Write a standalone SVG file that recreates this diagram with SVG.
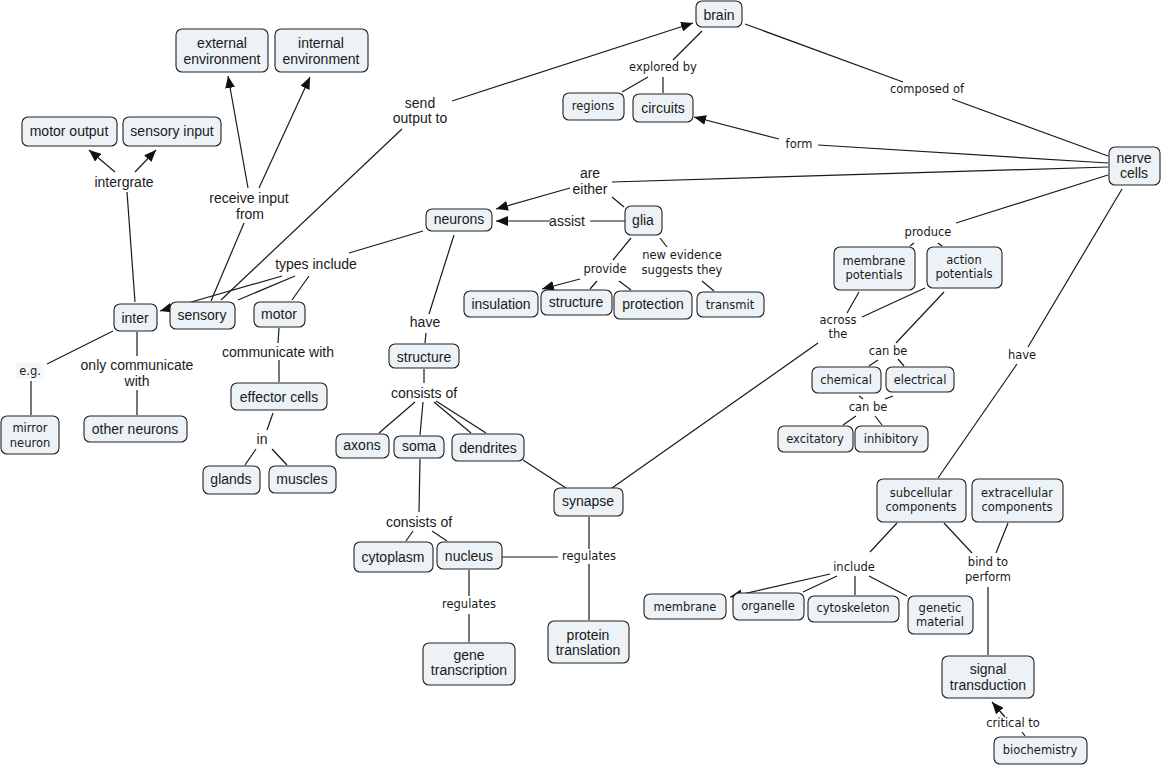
<svg xmlns="http://www.w3.org/2000/svg" width="1163" height="767" viewBox="0 0 1163 767">
<style>
.n rect{fill:#ecf2f5;stroke:#222;stroke-width:1.1}
text{fill:#1a1a1a;text-anchor:middle;dominant-baseline:central}
.a{font-family:"Liberation Sans",Arial,sans-serif;font-size:14px}
.v{font-family:"DejaVu Sans",Verdana,sans-serif;font-size:11.5px}
#links line{stroke:#1a1a1a;stroke-width:1.2}
#links line.ar{marker-end:url(#ah)}
</style>
<defs>
<marker id="ah" markerUnits="userSpaceOnUse" markerWidth="13" markerHeight="10" refX="12" refY="5" orient="auto">
<path d="M0,0 L12,5 L0,10 z" fill="#111"/>
</marker>
</defs>
<rect width="1163" height="767" fill="#fff"/>
<g id="links">
<line class="ar" x1="452" y1="101" x2="693" y2="23"/>
<line class="ar" x1="779" y1="139" x2="694" y2="117"/>
<line class="ar" x1="570" y1="188" x2="496" y2="209"/>
<line class="ar" x1="550" y1="221" x2="496" y2="221"/>
<line class="ar" x1="115" y1="172" x2="89" y2="150"/>
<line class="ar" x1="135" y1="172" x2="156" y2="150"/>
<line class="ar" x1="248" y1="188" x2="228" y2="76"/>
<line class="ar" x1="259" y1="188" x2="310" y2="77"/>
<line class="ar" x1="282" y1="276" x2="160" y2="311"/>
<line class="ar" x1="580" y1="279" x2="542" y2="289"/>
<line class="ar" x1="830" y1="574" x2="730" y2="597"/>
<line class="ar" x1="1005" y1="717" x2="992" y2="702"/>
<line x1="127" y1="192" x2="135" y2="302"/>
<line x1="244" y1="223" x2="211" y2="301"/>
<line x1="402" y1="129" x2="221" y2="300"/>
<line x1="702" y1="31" x2="673" y2="60"/>
<line x1="648" y1="77" x2="622" y2="92"/>
<line x1="663" y1="77" x2="663" y2="93"/>
<line x1="745" y1="24" x2="903" y2="82"/>
<line x1="952" y1="99" x2="1108" y2="156"/>
<line x1="1108" y1="163" x2="818" y2="145"/>
<line x1="1108" y1="167" x2="612" y2="182"/>
<line x1="624" y1="207" x2="612" y2="197"/>
<line x1="625" y1="221" x2="590" y2="221"/>
<line x1="1108" y1="175" x2="956" y2="223"/>
<line x1="914" y1="243" x2="910" y2="246"/>
<line x1="938" y1="243" x2="942" y2="246"/>
<line x1="1122" y1="189" x2="1028" y2="347"/>
<line x1="1017" y1="364" x2="938" y2="478"/>
<line x1="423" y1="231" x2="349" y2="253"/>
<line x1="295" y1="276" x2="238" y2="300"/>
<line x1="309" y1="276" x2="292" y2="300"/>
<line x1="454" y1="235" x2="429" y2="314"/>
<line x1="426" y1="333" x2="425" y2="343"/>
<line x1="631" y1="238" x2="613" y2="260"/>
<line x1="597" y1="281" x2="590" y2="289"/>
<line x1="619" y1="281" x2="631" y2="290"/>
<line x1="660" y1="238" x2="667" y2="247"/>
<line x1="702" y1="281" x2="714" y2="291"/>
<line x1="859" y1="292" x2="847" y2="313"/>
<line x1="925" y1="288" x2="862" y2="317"/>
<line x1="818" y1="343" x2="612" y2="488"/>
<line x1="944" y1="292" x2="896" y2="343"/>
<line x1="878" y1="360" x2="869" y2="366"/>
<line x1="898" y1="359" x2="904" y2="366"/>
<line x1="859" y1="396" x2="863" y2="399"/>
<line x1="893" y1="396" x2="885" y2="399"/>
<line x1="856" y1="416" x2="843" y2="425"/>
<line x1="875" y1="416" x2="882" y2="425"/>
<line x1="279" y1="328" x2="278" y2="343"/>
<line x1="279" y1="360" x2="279" y2="382"/>
<line x1="273" y1="413" x2="267" y2="430"/>
<line x1="256" y1="449" x2="245" y2="465"/>
<line x1="272" y1="449" x2="287" y2="465"/>
<line x1="113" y1="331" x2="47" y2="364"/>
<line x1="31" y1="381" x2="31" y2="415"/>
<line x1="137" y1="332" x2="137" y2="356"/>
<line x1="137" y1="390" x2="137" y2="415"/>
<line x1="424" y1="369" x2="424" y2="383"/>
<line x1="415" y1="402" x2="379" y2="433"/>
<line x1="423" y1="402" x2="420" y2="435"/>
<line x1="434" y1="402" x2="471" y2="433"/>
<line x1="436" y1="401" x2="486" y2="433"/>
<line x1="523" y1="460" x2="566" y2="488"/>
<line x1="420" y1="459" x2="419" y2="512"/>
<line x1="413" y1="531" x2="406" y2="541"/>
<line x1="432" y1="531" x2="447" y2="541"/>
<line x1="502" y1="557" x2="558" y2="557"/>
<line x1="589" y1="517" x2="589" y2="549"/>
<line x1="589" y1="564" x2="589" y2="620"/>
<line x1="469" y1="570" x2="469" y2="596"/>
<line x1="469" y1="614" x2="469" y2="642"/>
<line x1="897" y1="523" x2="870" y2="552"/>
<line x1="837" y1="576" x2="803" y2="592"/>
<line x1="855" y1="576" x2="855" y2="595"/>
<line x1="869" y1="576" x2="907" y2="596"/>
<line x1="944" y1="523" x2="972" y2="553"/>
<line x1="1008" y1="523" x2="996" y2="553"/>
<line x1="988" y1="587" x2="988" y2="655"/>
<line x1="1025" y1="736" x2="1022" y2="732"/>
</g>
<g id="link-labels">
<text class="a" x="124" y="182">intergrate</text>
<text class="a" x="249" y="198">receive input</text>
<text class="a" x="250" y="214">from</text>
<text class="a" x="420" y="103">send</text>
<text class="a" x="420" y="118">output to</text>
<text class="v" x="663" y="67">explored by</text>
<text class="v" x="927" y="89">composed of</text>
<text class="v" x="799" y="144">form</text>
<text class="a" x="590" y="173">are</text>
<text class="a" x="590" y="189">either</text>
<text class="a" x="567" y="221">assist</text>
<text class="v" x="928" y="232">produce</text>
<text class="a" x="316" y="264">types include</text>
<text class="v" x="605" y="269">provide</text>
<text class="v" x="682" y="255">new evidence</text>
<text class="v" x="682" y="270">suggests they</text>
<text class="a" x="425" y="322">have</text>
<text class="v" x="1022" y="355">have</text>
<text class="v" x="838" y="320">across</text>
<text class="v" x="838" y="334">the</text>
<text class="v" x="888" y="351">can be</text>
<text class="a" x="278" y="352">communicate with</text>
<text class="a" x="137" y="365">only communicate</text>
<text class="a" x="137" y="381">with</text>
<rect x="16" y="363" width="28" height="16" fill="#f5f8f9"/>
<text class="v" x="30" y="371">e.g.</text>
<text class="a" x="424" y="393">consists of</text>
<text class="v" x="868" y="407">can be</text>
<text class="a" x="262" y="439">in</text>
<text class="a" x="419" y="522">consists of</text>
<text class="v" x="589" y="556">regulates</text>
<text class="v" x="469" y="604">regulates</text>
<text class="v" x="988" y="562">bind to</text>
<text class="v" x="988" y="577">perform</text>
<text class="v" x="854" y="567">include</text>
<text class="v" x="1013" y="723">critical to</text>
</g>
<g id="brain" class="n"><rect x="696" y="1" width="46" height="26" rx="6"/><text class="a" x="719" y="15">brain</text></g>
<g id="external-environment" class="n"><rect x="176" y="29" width="92" height="43" rx="6"/><text class="a" x="222" y="43">external</text><text class="a" x="222" y="59">environment</text></g>
<g id="internal-environment" class="n"><rect x="275" y="29" width="93" height="43" rx="6"/><text class="a" x="321" y="43">internal</text><text class="a" x="321" y="59">environment</text></g>
<g id="motor-output" class="n"><rect x="22" y="117" width="95" height="29" rx="6"/><text class="a" x="69" y="131">motor output</text></g>
<g id="sensory-input" class="n"><rect x="123" y="117" width="98" height="29" rx="6"/><text class="a" x="172" y="131">sensory input</text></g>
<g id="regions" class="n"><rect x="563" y="93" width="61" height="27" rx="6"/><text class="v" x="593" y="106">regions</text></g>
<g id="circuits" class="n"><rect x="633" y="94" width="60" height="28" rx="6"/><text class="a" x="663" y="108">circuits</text></g>
<g id="nerve-cells" class="n"><rect x="1109" y="147" width="51" height="38" rx="6"/><text class="a" x="1134" y="158">nerve</text><text class="a" x="1134" y="173">cells</text></g>
<g id="neurons" class="n"><rect x="426" y="209" width="66" height="22" rx="6"/><text class="a" x="459" y="219">neurons</text></g>
<g id="glia" class="n"><rect x="625" y="206" width="37" height="29" rx="6"/><text class="a" x="643" y="220">glia</text></g>
<g id="membrane-potentials" class="n"><rect x="834" y="247" width="81" height="43" rx="6"/><text class="v" x="874" y="261">membrane</text><text class="v" x="874" y="275">potentials</text></g>
<g id="action-potentials" class="n"><rect x="927" y="247" width="75" height="41" rx="6"/><text class="v" x="964" y="260">action</text><text class="v" x="964" y="274">potentials</text></g>
<g id="insulation" class="n"><rect x="464" y="291" width="74" height="26" rx="6"/><text class="a" x="501" y="304">insulation</text></g>
<g id="glia-structure" class="n"><rect x="541" y="290" width="71" height="25" rx="6"/><text class="a" x="576" y="302">structure</text></g>
<g id="protection" class="n"><rect x="614" y="291" width="78" height="28" rx="6"/><text class="a" x="653" y="304">protection</text></g>
<g id="transmit" class="n"><rect x="697" y="292" width="67" height="25" rx="6"/><text class="v" x="730" y="305">transmit</text></g>
<g id="inter" class="n"><rect x="114" y="304" width="43" height="27" rx="6"/><text class="a" x="135" y="318">inter</text></g>
<g id="sensory" class="n"><rect x="170" y="302" width="65" height="27" rx="6"/><text class="a" x="202" y="315">sensory</text></g>
<g id="motor" class="n"><rect x="254" y="302" width="51" height="25" rx="6"/><text class="a" x="279" y="314">motor</text></g>
<g id="structure" class="n"><rect x="389" y="344" width="70" height="24" rx="6"/><text class="a" x="424" y="357">structure</text></g>
<g id="chemical" class="n"><rect x="812" y="367" width="69" height="26" rx="6"/><text class="v" x="846" y="380">chemical</text></g>
<g id="electrical" class="n"><rect x="886" y="367" width="68" height="25" rx="6"/><text class="v" x="920" y="380">electrical</text></g>
<g id="effector-cells" class="n"><rect x="231" y="383" width="96" height="27" rx="6"/><text class="a" x="279" y="397">effector cells</text></g>
<g id="mirror-neuron" class="n"><rect x="1" y="416" width="58" height="38" rx="6"/><text class="v" x="30" y="428">mirror</text><text class="v" x="30" y="443">neuron</text></g>
<g id="other-neurons" class="n"><rect x="84" y="416" width="103" height="26" rx="6"/><text class="a" x="135" y="429">other neurons</text></g>
<g id="excitatory" class="n"><rect x="778" y="426" width="75" height="26" rx="6"/><text class="v" x="815" y="439">excitatory</text></g>
<g id="inhibitory" class="n"><rect x="855" y="426" width="73" height="26" rx="6"/><text class="v" x="891" y="439">inhibitory</text></g>
<g id="axons" class="n"><rect x="336" y="434" width="53" height="24" rx="6"/><text class="a" x="362" y="445">axons</text></g>
<g id="soma" class="n"><rect x="394" y="436" width="50" height="22" rx="6"/><text class="a" x="419" y="446">soma</text></g>
<g id="dendrites" class="n"><rect x="452" y="434" width="72" height="27" rx="6"/><text class="a" x="488" y="448">dendrites</text></g>
<g id="glands" class="n"><rect x="203" y="466" width="57" height="28" rx="6"/><text class="a" x="231" y="479">glands</text></g>
<g id="muscles" class="n"><rect x="269" y="466" width="67" height="27" rx="6"/><text class="a" x="302" y="479">muscles</text></g>
<g id="subcellular-components" class="n"><rect x="877" y="479" width="89" height="43" rx="6"/><text class="v" x="921" y="493">subcellular</text><text class="v" x="921" y="507">components</text></g>
<g id="extracellular-components" class="n"><rect x="972" y="479" width="91" height="43" rx="6"/><text class="v" x="1017" y="493">extracellular</text><text class="v" x="1017" y="507">components</text></g>
<g id="synapse" class="n"><rect x="554" y="488" width="69" height="28" rx="6"/><text class="a" x="588" y="501">synapse</text></g>
<g id="cytoplasm" class="n"><rect x="354" y="542" width="79" height="30" rx="6"/><text class="a" x="393" y="557">cytoplasm</text></g>
<g id="nucleus" class="n"><rect x="437" y="542" width="65" height="27" rx="6"/><text class="a" x="469" y="556">nucleus</text></g>
<g id="membrane" class="n"><rect x="644" y="594" width="82" height="25" rx="6"/><text class="v" x="685" y="607">membrane</text></g>
<g id="organelle" class="n"><rect x="733" y="593" width="71" height="27" rx="6"/><text class="v" x="768" y="606">organelle</text></g>
<g id="cytoskeleton" class="n"><rect x="808" y="596" width="91" height="26" rx="6"/><text class="v" x="853" y="608">cytoskeleton</text></g>
<g id="genetic-material" class="n"><rect x="908" y="596" width="65" height="38" rx="6"/><text class="v" x="940" y="608">genetic</text><text class="v" x="940" y="622">material</text></g>
<g id="protein-translation" class="n"><rect x="548" y="621" width="81" height="42" rx="6"/><text class="a" x="588" y="635">protein</text><text class="a" x="588" y="650">translation</text></g>
<g id="gene-transcription" class="n"><rect x="423" y="643" width="92" height="42" rx="6"/><text class="a" x="469" y="655">gene</text><text class="a" x="469" y="670">transcription</text></g>
<g id="signal-transduction" class="n"><rect x="942" y="656" width="92" height="42" rx="6"/><text class="a" x="988" y="669">signal</text><text class="a" x="988" y="685">transduction</text></g>
<g id="biochemistry" class="n"><rect x="994" y="737" width="93" height="27" rx="6"/><text class="v" x="1040" y="750">biochemistry</text></g>
</svg>
